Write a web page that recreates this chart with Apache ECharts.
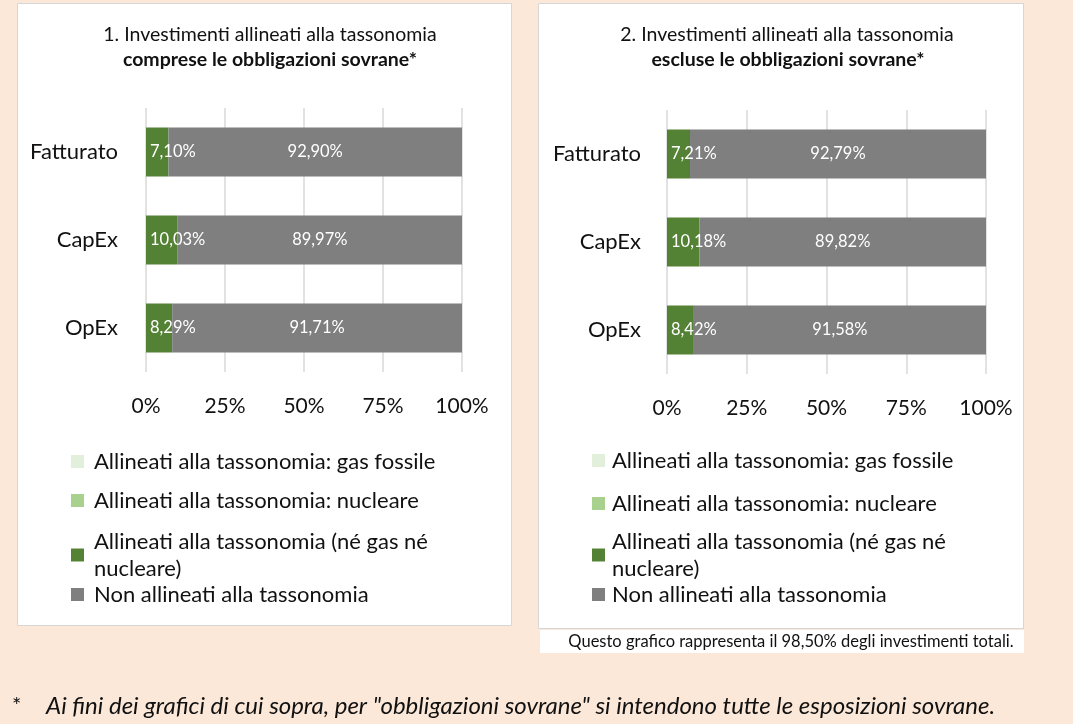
<!DOCTYPE html>
<html>
<head>
<meta charset="utf-8">
<script src="https://cdn.jsdelivr.net/npm/echarts@6/dist/echarts.min.js"></script>
<style>
  html, body { margin: 0; padding: 0; background: #fbe8d8; }
  #chart { width: 1073px; height: 724px; }
</style>
</head>
<body>
<div id="chart"></div>
<script>
// categorie (righe delle barre)
const categories = ['Fatturato', 'CapEx', 'OpEx'];
// nomi delle serie / legenda
const seriesNames = [
  'Allineati alla tassonomia: gas fossile',
  'Allineati alla tassonomia: nucleare',
  'Allineati alla tassonomia (né gas né nucleare)',
  'Non allineati alla tassonomia'
];
const seriesColors = ['#e2efda', '#a9d18e', '#548235', '#7f7f7f'];
const xTicks = [0, 25, 50, 75, 100];

// grafico 1: comprese le obbligazioni sovrane
const gas1 = [0, 0, 0];
const nuc1 = [0, 0, 0];
const green1 = [7.10, 10.03, 8.29];
const grey1 = [92.90, 89.97, 91.71];

// grafico 2: escluse le obbligazioni sovrane
const gas2 = [0, 0, 0];
const nuc2 = [0, 0, 0];
const green2 = [7.21, 10.18, 8.42];
const grey2 = [92.79, 89.82, 91.58];

const FONT = 'Lato, "Open Sans", sans-serif';
const TXT = '#111';
const fmtPct = v => v.toFixed(2).replace('.', ',') + '%';

const chart = echarts.init(document.getElementById('chart'), null, { renderer: 'canvas' });

// griglie dei due pannelli
const grids = [
  { left: 146, right: 611, top: 108, height: 264 },
  { left: 667, right: 87, top: 110, height: 264 }
];

function makeXAxis(gi) {
  return {
    gridIndex: gi, type: 'value', min: 0, max: 100, interval: 25,
    axisLine: { show: false }, axisTick: { show: false },
    splitLine: { show: true, lineStyle: { color: '#d9d9d9', width: 1.5 } },
    axisLabel: { formatter: '{value}%', fontSize: 21, color: TXT, fontFamily: FONT, margin: 24 }
  };
}
function makeYAxis(gi, margin) {
  return {
    gridIndex: gi, type: 'category', data: categories, inverse: true,
    axisLine: { show: false }, axisTick: { show: false },
    axisLabel: { fontSize: 22, color: TXT, fontFamily: FONT, margin: margin }
  };
}

function makeSeries(gi, dataSets) {
  return dataSets.map((d, i) => ({
    name: seriesNames[i],
    type: 'bar',
    stack: 'tot' + gi,
    xAxisIndex: gi, yAxisIndex: gi,
    barWidth: 49,
    data: d,
    itemStyle: { color: seriesColors[i] },
    label: {
      show: i >= 2,
      position: i === 2 ? 'insideLeft' : 'inside',
      distance: 4,
      color: '#fff', fontSize: 16.5, fontFamily: FONT,
      formatter: p => fmtPct(p.value)
    },
    emphasis: { disabled: true }
  }));
}

// legende: una voce per componente per rispettare la spaziatura
const legendTops1 = [443, 482, 523, 576];
const legendTops2 = [442, 485, 523, 576];
function makeLegends(left, tops, gap) {
  return seriesNames.map((n, i) => ({
    left: left, top: tops[i], orient: 'vertical',
    data: [n], selectedMode: false,
    itemWidth: 13, itemHeight: 13, itemGap: 10,
    icon: 'rect',
    textStyle: { fontSize: 22, color: TXT, fontFamily: FONT, lineHeight: 27, padding: [0, 0, 0, gap] },
    formatter: name => name === seriesNames[2] ? 'Allineati alla tassonomia (né gas né\nnucleare)' : name
  }));
}

const option = {
  backgroundColor: '#fbe8d8',
  animation: false,
  grid: grids,
  xAxis: [makeXAxis(0), makeXAxis(1)],
  yAxis: [makeYAxis(0, 28), makeYAxis(1, 26)],
  legend: makeLegends(66, legendTops1, 5).concat(makeLegends(587, legendTops2, 2)),
  graphic: [
    { type: 'rect', shape: { x: 17.5, y: 3.5, width: 494, height: 622 }, style: { fill: '#fff', stroke: '#d6d6d6', lineWidth: 1 }, z: -10 },
    { type: 'rect', shape: { x: 538.5, y: 3.5, width: 485, height: 625 }, style: { fill: '#fff', stroke: '#d6d6d6', lineWidth: 1 }, z: -10 },
    { type: 'rect', shape: { x: 540, y: 630, width: 484, height: 23 }, style: { fill: '#fff' }, z: -10 },
    { type: 'text', x: 270, y: 35, style: { text: '1. Investimenti allineati alla tassonomia', fontSize: 19.5, fontFamily: FONT, fill: TXT, align: 'center', verticalAlign: 'middle' } },
    { type: 'text', x: 270, y: 60, style: { text: 'comprese le obbligazioni sovrane*', fontSize: 19.5, fontWeight: 'bold', fontFamily: FONT, fill: TXT, align: 'center', verticalAlign: 'middle' } },
    { type: 'text', x: 787, y: 35, style: { text: '2. Investimenti allineati alla tassonomia', fontSize: 19.5, fontFamily: FONT, fill: TXT, align: 'center', verticalAlign: 'middle' } },
    { type: 'text', x: 788, y: 60, style: { text: 'escluse le obbligazioni sovrane*', fontSize: 19.5, fontWeight: 'bold', fontFamily: FONT, fill: TXT, align: 'center', verticalAlign: 'middle' } },
    { type: 'text', x: 791, y: 642, style: { text: 'Questo grafico rappresenta il 98,50% degli investimenti totali.', fontSize: 16.5, fontFamily: FONT, fill: TXT, align: 'center', verticalAlign: 'middle' } },
    { type: 'text', x: 12, y: 706, style: { text: '*', fontSize: 22, fontFamily: FONT, fill: TXT, verticalAlign: 'middle' } },
    { type: 'text', x: 46, y: 706, style: { text: 'Ai fini dei grafici di cui sopra, per "obbligazioni sovrane" si intendono tutte le esposizioni sovrane.', fontSize: 24, fontStyle: 'italic', fontFamily: FONT, fill: TXT, verticalAlign: 'middle' } }
  ],
  series: makeSeries(0, [gas1, nuc1, green1, grey1]).concat(makeSeries(1, [gas2, nuc2, green2, grey2]))
};

chart.setOption(option);
</script>
</body>
</html>
